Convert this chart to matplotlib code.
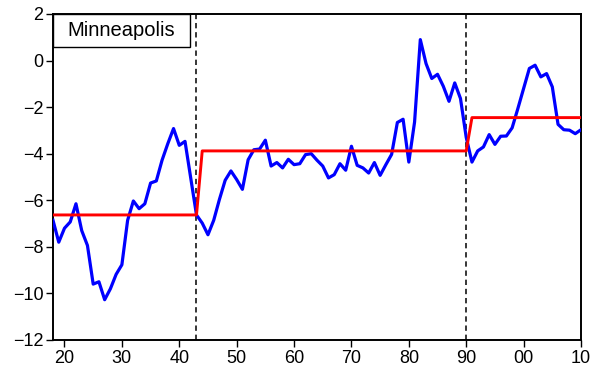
import matplotlib.pyplot as plt
import numpy as np
from matplotlib.patches import Rectangle

plt.rcParams['font.family'] = ['Liberation Sans', 'DejaVu Sans']

# annual series, 1918-2010
years = np.arange(1918, 2011)
values = [
    -6.86, -7.80, -7.20, -6.93, -6.15, -7.30, -7.94, -9.60, -9.50, -10.27,
    -9.80, -9.18, -8.77, -6.86, -6.03, -6.36, -6.15, -5.26, -5.17, -4.28,
    -3.57, -2.92, -3.64, -3.47, -5.05, -6.63, -6.98, -7.48, -6.86, -5.96,
    -5.14, -4.74, -5.11, -5.53, -4.26, -3.83, -3.80, -3.42, -4.53, -4.38,
    -4.61, -4.24, -4.47, -4.43, -4.04, -4.00, -4.28, -4.53, -5.04, -4.90,
    -4.43, -4.71, -3.68, -4.50, -4.61, -4.83, -4.38, -4.93, -4.47, -4.03,
    -2.66, -2.52, -4.36, -2.64, 0.90, -0.13, -0.77, -0.59, -1.10, -1.75,
    -0.96, -1.63, -3.30, -4.36, -3.88, -3.71, -3.18, -3.60, -3.25, -3.24,
    -2.89, -2.06, -1.20, -0.34, -0.20, -0.70, -0.56, -1.13, -2.74, -2.97,
    -2.99, -3.14, -2.97,
]

# regime means and break years
break_years = [1943, 1990]
regime_means = [-6.63, -3.88, -2.45]

regime = np.searchsorted(break_years, years, side='left')
fitted = np.array(regime_means)[regime]

fig = plt.figure(figsize=(5.97, 3.73), dpi=100)
ax = fig.add_axes([0.0888, 0.0885, 0.8844, 0.874])

ax.plot(years, values, color='#0000ff', lw=2.3, zorder=3)
ax.plot(years, fitted, color='#ff0000', lw=2.1, zorder=4)
for b in break_years:
    ax.axvline(b, color='black', lw=1.1, ls=(0, (3.5, 2.5)), zorder=2)

ax.set_xlim(1918, 2010)
ax.set_ylim(-12, 2)
ax.set_yticks(np.arange(-12, 3, 2))
ax.set_xticks(np.arange(1920, 2011, 10))
ax.set_xticklabels([f'{y % 100:02d}' for y in range(1920, 2011, 10)])
ax.tick_params(axis='both', direction='out', length=5, width=1, labelsize=13,
               top=False, right=False, pad=2)

for s in ax.spines.values():
    s.set_linewidth(1.4)

ax.add_patch(Rectangle((0, 0.899), 0.26, 0.101, transform=ax.transAxes,
                       fc='white', ec='black', lw=1.0, zorder=5))
ax.text(0.13, 0.948, 'Minneapolis', transform=ax.transAxes, ha='center',
        va='center', fontsize=14.5, zorder=6)

fig.savefig('out.png', dpi=100)
